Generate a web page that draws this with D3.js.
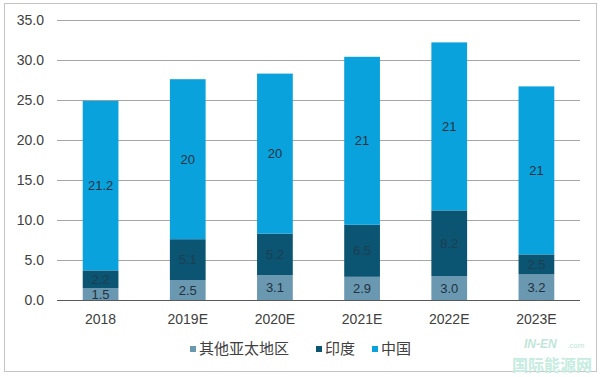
<!DOCTYPE html>
<html>
<head>
<meta charset="utf-8">
<script src="https://cdn.jsdelivr.net/npm/d3@7"></script>
<style>
  body { margin: 0; background: #fff; }
  svg text { font-family: "Liberation Sans", Arial, sans-serif; }
  .cjk { font-family: "Noto Sans CJK SC", sans-serif; }
</style>
</head>
<body>
<div id="chart"></div>
<script>
// Data
const years = ["2018", "2019E", "2020E", "2021E", "2022E", "2023E"];
const otherAsia = [1.5, 2.5, 3.1, 2.9, 3.0, 3.2];
const india = [2.2, 5.1, 5.2, 6.5, 8.2, 2.5];
const china = [21.2, 20, 20, 21, 21, 21];
const seriesNames = ["其他亚太地区", "印度", "中国"];
const yTicks = [0, 5, 10, 15, 20, 25, 30, 35];

const colors = ["#6a98b0", "#0b5472", "#0aa2dc"];

const W = 600, H = 377;
const margin = {top: 20, right: 20, bottom: 77, left: 57},
width = W - margin.left - margin.right,
height = H - margin.top - margin.bottom;

const svg = d3.select("#chart")
.append("svg")
.attr("width", W)
.attr("height", H);

// outer frame
svg.append("rect")
.attr("x", 4.5).attr("y", 3.5)
.attr("width", 592).attr("height", 368)
.attr("fill", "#fff")
.attr("stroke", "#c4c4c4");

const g = svg.append("g")
.attr("transform", `translate(${margin.left},${margin.top})`);

const x = d3.scaleBand()
.domain(years)
.range([0, width])
.paddingInner(0.59)
.paddingOuter(0.295);

const y = d3.scaleLinear()
.domain([0, 35])
.range([height, 0]);

// gridlines
g.append("g")
.selectAll("line")
.data(yTicks.slice(1))
.join("line")
.attr("x1", 0).attr("x2", width)
.attr("y1", d => y(d) + 0.5).attr("y2", d => y(d) + 0.5)
.attr("stroke", "#a6a6a6");

// y tick labels
g.append("g")
.selectAll("text")
.data(yTicks)
.join("text")
.attr("x", -13)
.attr("y", d => y(d))
.attr("dy", "0.35em")
.attr("text-anchor", "end")
.attr("font-size", 14)
.attr("fill", "#404040")
.text(d => d3.format(".1f")(d));

// stack
const table = years.map((yr, i) => ({year: yr, s0: otherAsia[i], s1: india[i], s2: china[i]}));
const stack = d3.stack().keys(["s0", "s1", "s2"])(table);
const valueArrays = [otherAsia, india, china];

stack.forEach((layer, li) => {
  g.append("g")
  .selectAll("rect")
  .data(layer)
  .join("rect")
  .attr("x", d => x(d.data.year))
  .attr("y", d => y(d[1]))
  .attr("width", x.bandwidth())
  .attr("height", d => y(d[0]) - y(d[1]))
  .attr("fill", colors[li]);

  // value labels: china shows whole numbers plainly, others keep one decimal
  g.append("g")
  .selectAll("text")
  .data(layer)
  .join("text")
  .attr("x", d => x(d.data.year) + x.bandwidth() / 2)
  .attr("y", d => (y(d[0]) + y(d[1])) / 2)
  .attr("dy", "0.35em")
  .attr("text-anchor", "middle")
  .attr("font-size", 13)
  .attr("fill", li === 1 ? "#1d3f52" : "#1f3340")
  .text((d, i) => {
    const v = valueArrays[li][i];
    return li === 2 ? v : v.toFixed(1);
  });
});

// baseline axis
g.append("line")
.attr("x1", 0).attr("x2", width)
.attr("y1", height + 0.5).attr("y2", height + 0.5)
.attr("stroke", "#595959");

// x labels
g.append("g")
.selectAll("text")
.data(years)
.join("text")
.attr("x", d => x(d) + x.bandwidth() / 2)
.attr("y", height + 24)
.attr("text-anchor", "middle")
.attr("font-size", 14)
.attr("fill", "#404040")
.text(d => d);

// legend
const legendX = [190, 316, 372];
const legend = svg.append("g");
seriesNames.forEach((name, i) => {
  legend.append("rect")
  .attr("x", legendX[i]).attr("y", 346)
  .attr("width", 6).attr("height", 6)
  .attr("fill", colors[i]);
  legend.append("text")
  .attr("class", "cjk")
  .attr("x", legendX[i] + 9)
  .attr("y", 349)
  .attr("dy", "0.35em")
  .attr("font-size", 15)
  .attr("fill", "#404040")
  .text(name);
});

// faint watermark
svg.append("text")
.attr("x", 524).attr("y", 348)
.attr("font-size", 12)
.attr("font-style", "italic")
.attr("font-weight", "bold")
.attr("fill", "#bfe6d9")
.text("IN-EN");
svg.append("text")
.attr("x", 567).attr("y", 348)
.attr("font-size", 8)
.attr("fill", "#bfe6d9")
.text(".com");
svg.append("text")
.attr("class", "cjk")
.attr("x", 512).attr("y", 371)
.attr("font-size", 16)
.attr("font-weight", "bold")
.attr("fill", "#c6ecdf")
.text("国际能源网");
</script>
</body>
</html>
